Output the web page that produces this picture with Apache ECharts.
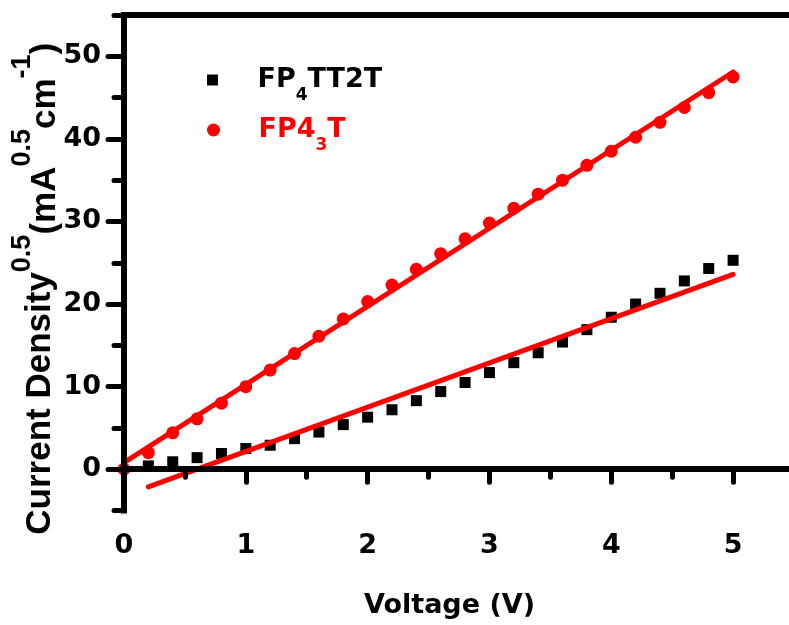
<!DOCTYPE html>
<html><head><meta charset="utf-8">
<script src="https://cdn.jsdelivr.net/npm/echarts@6/dist/echarts.min.js"></script>
<style>html,body{margin:0;padding:0;background:#fff}#c{width:789px;height:625px}</style>
</head><body><div id="c"></div>
<script>
// ---- data ----
const voltageFP43T = [0, 0.2, 0.4, 0.6, 0.8, 1.0, 1.2, 1.4, 1.6, 1.8, 2.0, 2.2, 2.4, 2.6, 2.8, 3.0, 3.2, 3.4, 3.6, 3.8, 4.0, 4.2, 4.4, 4.6, 4.8, 5.0];
const densityFP43T = [0, 2.0, 4.4, 6.1, 8.0, 10.0, 12.0, 14.0, 16.1, 18.2, 20.3, 22.3, 24.2, 26.1, 27.9, 29.8, 31.6, 33.3, 35.0, 36.8, 38.5, 40.2, 42.0, 43.8, 45.6, 47.5];
const voltageFP4TT2T = [0.2, 0.4, 0.6, 0.8, 1.0, 1.2, 1.4, 1.6, 1.8, 2.0, 2.2, 2.4, 2.6, 2.8, 3.0, 3.2, 3.4, 3.6, 3.8, 4.0, 4.2, 4.4, 4.6, 4.8, 5.0];
const densityFP4TT2T = [0.4, 0.9, 1.4, 1.9, 2.5, 2.9, 3.7, 4.5, 5.4, 6.3, 7.2, 8.3, 9.4, 10.5, 11.7, 12.9, 14.1, 15.4, 16.9, 18.4, 20.0, 21.3, 22.8, 24.3, 25.3];
const fitVoltageFP43T = [0, 5];
const fitDensityFP43T = [0.8, 48.1];
const fitVoltageFP4TT2T = [0.2, 5];
const fitDensityFP4TT2T = [-2.15, 23.6];
const xMajorTicks = [0, 1, 2, 3, 4, 5];
const xMinorTicks = [0.5, 1.5, 2.5, 3.5, 4.5, 5.5];
const yMajorTicks = [0, 10, 20, 30, 40, 50];
const yMinorTicks = [-5, 5, 15, 25, 35, 45, 55];
const seriesNames = ['FP4TT2T', 'FP43T'];

const pair = (xs, ys) => xs.map((x, i) => [x, ys[i]]);
const RED = '#ff0000';
const FONT = 'DejaVu Sans';
const YFONT = 'Liberation Sans';

const chart = echarts.init(document.getElementById('c'), null, {renderer: 'canvas'});
const axisLine = {show: true, lineStyle: {color: '#000', width: 6, cap: 'square'}};
const common = {min: 0, max: 5.5, type: 'value', splitLine: {show: false}, z: 10};
const ycommon = {min: -5, max: 55, type: 'value', splitLine: {show: false}, z: 10};
const tickStyle = {color: '#000', width: 5, cap: 'round'};

chart.setOption({
  animation: false,
  backgroundColor: '#fff',
  grid: {left: 124, top: 15, width: 670, height: 495.5, containLabel: false, outerBoundsMode: 'none'},
  legend: [
    {
      data: [{name: seriesNames[0], icon: 'path://M0,0L10,0L10,10L0,10Z'}],
      left: 207, top: 48, padding: 0, orient: 'vertical', symbolKeepAspect: true,
      itemWidth: 80, itemHeight: 11, selectedMode: false,
      formatter: () => '{m|FP}{s|4}{m|TT2T}',
      textStyle: {
        color: '#000',
        rich: {
          m: {fontFamily: FONT, fontWeight: 'bold', fontSize: 27, color: '#000', height: 64, lineHeight: 64, verticalAlign: 'middle'},
          s: {fontFamily: FONT, fontWeight: 'bold', fontSize: 17, color: '#000', height: 32, lineHeight: 32, verticalAlign: 'bottom'}
        }
      }
    },
    {
      data: [{name: seriesNames[1], icon: 'circle'}],
      left: 207, top: 98, padding: 0, orient: 'vertical', symbolKeepAspect: true,
      itemWidth: 80, itemHeight: 13, selectedMode: false,
      formatter: () => '{m|FP4}{s|3}{m|T}',
      textStyle: {
        color: RED,
        rich: {
          m: {fontFamily: FONT, fontWeight: 'bold', fontSize: 27, color: RED, height: 64, lineHeight: 64, verticalAlign: 'middle'},
          s: {fontFamily: FONT, fontWeight: 'bold', fontSize: 17, color: RED, height: 32, lineHeight: 32, verticalAlign: 'bottom'}
        }
      }
    }
  ],
  xAxis: [
    Object.assign({}, common, {
      position: 'bottom',
      axisLine: axisLine,
      axisTick: {show: true, inside: false, length: 13, customValues: xMajorTicks, lineStyle: tickStyle},
      axisLabel: {show: true, customValues: xMajorTicks, margin: 22, color: '#000', fontFamily: FONT, fontWeight: 'bold', fontSize: 27},
      name: 'Voltage (V)', nameLocation: 'middle', nameGap: 82, nameMoveOverlap: false,
      nameTextStyle: {color: '#000', fontFamily: FONT, fontWeight: 'bold', fontSize: 27, padding: [0, 19, 0, 0]}
    }),
    Object.assign({}, common, {
      position: 'bottom',
      axisLine: {show: false},
      axisTick: {show: true, inside: false, length: 8, customValues: xMinorTicks, lineStyle: tickStyle},
      axisLabel: {show: false}
    }),
    Object.assign({}, common, {
      position: 'top',
      axisLine: axisLine,
      axisTick: {show: false},
      axisLabel: {show: false}
    })
  ],
  yAxis: [
    Object.assign({}, ycommon, {
      position: 'left',
      axisLine: axisLine,
      axisTick: {show: true, inside: false, length: 16, customValues: yMajorTicks, lineStyle: tickStyle},
      axisLabel: {show: true, customValues: yMajorTicks, margin: 23, color: '#000', fontFamily: FONT, fontWeight: 'bold', fontSize: 27},
      name: '{a|Current Density}{s|0.5}{b|(mA}{s|0.5}{b|cm}{s|-1}{b|)}',
      nameLocation: 'middle', nameRotate: 90, nameGap: 53, nameMoveOverlap: false,
      nameTextStyle: {
        color: '#000', fontFamily: YFONT, fontWeight: 'bold', fontSize: 35, padding: [0, 52, 0, 0],
        rich: {
          a: {fontFamily: YFONT, fontWeight: 'bold', fontSize: 35, color: '#000', height: 40, lineHeight: 40, verticalAlign: 'top'},
          s: {fontFamily: YFONT, fontWeight: 'bold', fontSize: 27, color: '#000', height: 6, lineHeight: 6, verticalAlign: 'top'},
          b: {fontFamily: YFONT, fontWeight: 'bold', fontSize: 35, color: '#000', height: 51, lineHeight: 51, verticalAlign: 'top'}
        }
      }
    }),
    Object.assign({}, ycommon, {
      position: 'left',
      axisLine: {show: false},
      axisTick: {show: true, inside: false, length: 10, customValues: yMinorTicks, lineStyle: tickStyle},
      axisLabel: {show: false}
    })
  ],
  series: [
    {
      type: 'scatter', name: seriesNames[0], xAxisIndex: 0, yAxisIndex: 0,
      symbol: 'rect', symbolSize: 11, itemStyle: {color: '#000', opacity: 1},
      data: pair(voltageFP4TT2T, densityFP4TT2T)
    },
    {
      type: 'scatter', name: seriesNames[1], xAxisIndex: 0, yAxisIndex: 0,
      symbol: 'circle', symbolSize: 13, itemStyle: {color: RED, opacity: 1},
      data: pair(voltageFP43T, densityFP43T)
    },
    {
      type: 'line', name: 'fit FP43T', xAxisIndex: 0, yAxisIndex: 0,
      symbol: 'none', showSymbol: false, itemStyle: {color: RED},
      lineStyle: {color: RED, width: 5, cap: 'round'},
      data: pair(fitVoltageFP43T, fitDensityFP43T)
    },
    {
      type: 'line', name: 'fit FP4TT2T', xAxisIndex: 0, yAxisIndex: 0,
      symbol: 'none', showSymbol: false, itemStyle: {color: RED},
      lineStyle: {color: RED, width: 5, cap: 'round'},
      data: pair(fitVoltageFP4TT2T, fitDensityFP4TT2T)
    }
  ]
});
</script>
</body></html>
